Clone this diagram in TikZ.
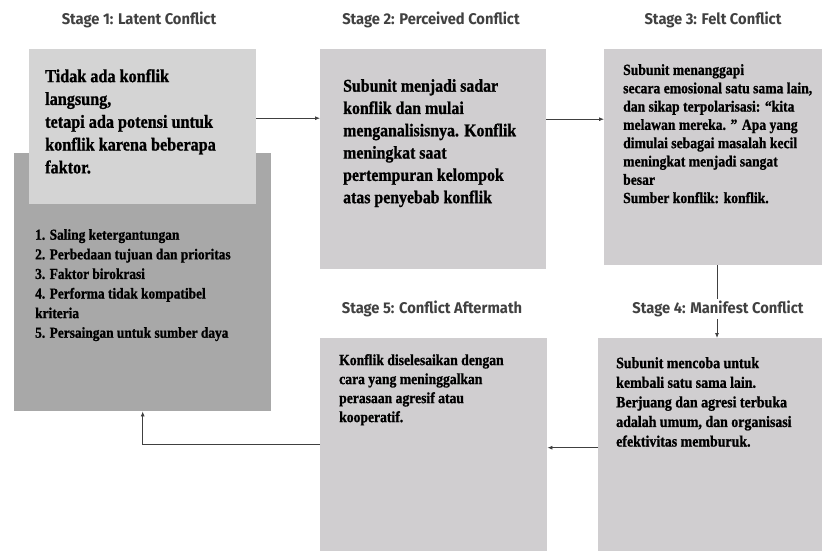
\documentclass[tikz,border=0pt]{standalone}
\usepackage{fontspec}
\setmainfont{Liberation Serif}[FakeStretch=0.88, BoldFeatures={FakeBold=1}]
\newfontfamily\lblfont{Fira Sans}[FakeStretch=0.95]
\usetikzlibrary{arrows.meta}
\definecolor{boxlight}{RGB}{208,206,208}
\definecolor{boxtop}{RGB}{212,212,212}
\definecolor{boxdark}{RGB}{168,168,168}
\definecolor{lblgray}{RGB}{65,65,65}
\tikzset{
  panel/.style={draw=none, fill=boxlight, anchor=north west, inner sep=0pt},
  txt/.style={anchor=north west, inner sep=0pt, align=left, text=black},
  stagelbl/.style={font=\lblfont\bfseries\fontsize{15.5}{17}\selectfont, text=lblgray, fill=white, inner sep=2pt},
  arr/.style={draw=black!75, line width=0.8pt, -{Latex[length=5pt,width=4pt]}},
}
\begin{document}
\begin{tikzpicture}[x=1pt,y=-1pt]
\useasboundingbox (0,0) rectangle (822,551);
% boxes
\node[panel, fill=boxdark, minimum width=257pt, minimum height=258pt] (b1) at (14,153) {};
\node[panel, fill=boxtop, minimum width=227pt, minimum height=155pt] (b1top) at (29,49) {};
\node[panel, minimum width=226pt, minimum height=220pt] (b2) at (320,49) {};
\node[panel, minimum width=218pt, minimum height=216pt] (b3) at (604,49) {};
\node[panel, minimum width=224pt, minimum height=213pt] (b4) at (598,338) {};
\node[panel, minimum width=227pt, minimum height=213pt] (b5) at (320,338) {};
% texts
\node[txt, font=\bfseries\fontsize{18.4}{22.8}\selectfont] (t1) at (45,69)
  {Tidak ada konflik\\langsung,\\tetapi ada potensi untuk\\konflik karena beberapa\\faktor.};
\node[txt, font=\bfseries\fontsize{15.2}{19.6}\selectfont] (t1b) at (35,229)
  {1. Saling ketergantungan\\2. Perbedaan tujuan dan prioritas\\3. Faktor birokrasi\\4. Performa tidak kompatibel\\kriteria\\5. Persaingan untuk sumber daya};
\node[txt, font=\bfseries\fontsize{18}{22.3}\selectfont] (t2) at (343,79)
  {Subunit menjadi sadar\\konflik dan mulai\\menganalisisnya. Konflik\\meningkat saat\\pertempuran kelompok\\atas penyebab konflik};
\node[txt, font=\bfseries\fontsize{15.5}{18.3}\selectfont] (t3) at (623,64)
  {Subunit menanggapi\\secara emosional satu sama lain,\\dan sikap terpolarisasi: “kita\\melawan mereka. ” Apa yang\\dimulai sebagai masalah kecil\\meningkat menjadi sangat\\besar\\Sumber konflik: konflik.};
\node[txt, font=\bfseries\fontsize{15.8}{19.6}\selectfont] (t4) at (616,357)
  {Subunit mencoba untuk\\kembali satu sama lain.\\Berjuang dan agresi terbuka\\adalah umum, dan organisasi\\efektivitas memburuk.};
\node[txt, font=\bfseries\fontsize{15.5}{19}\selectfont] (t5) at (339,354)
  {Konflik diselesaikan dengan\\cara yang meninggalkan\\perasaan agresif atau\\kooperatif.};
% connectors
\draw[arr] ([yshift=8.5pt]b1top.east) -- ([yshift=8.5pt]b1top.east -| b2.west);
\draw[arr] ([yshift=40pt]b2.east) -- ([yshift=40pt]b2.east -| b3.west);
\coordinate (c34) at (717,265);
\draw[arr] (c34) -- (c34 |- b4.north);
\draw[arr] ([yshift=-3pt]b4.west) -- ([yshift=-3pt]b4.west -| b5.east);
\draw[arr] (b5.west) -| (b1.south);
% stage labels
\node[stagelbl] (s1) at (139,20) {Stage 1: Latent Conflict};
\node[stagelbl] (s2) at (431,20) {Stage 2: Perceived Conflict};
\node[stagelbl] (s3) at (713,20) {Stage 3: Felt Conflict};
\node[stagelbl] (s4) at (718,309) {Stage 4: Manifest Conflict};
\node[stagelbl] (s5) at (432,309) {Stage 5: Conflict Aftermath};
\end{tikzpicture}
\end{document}
